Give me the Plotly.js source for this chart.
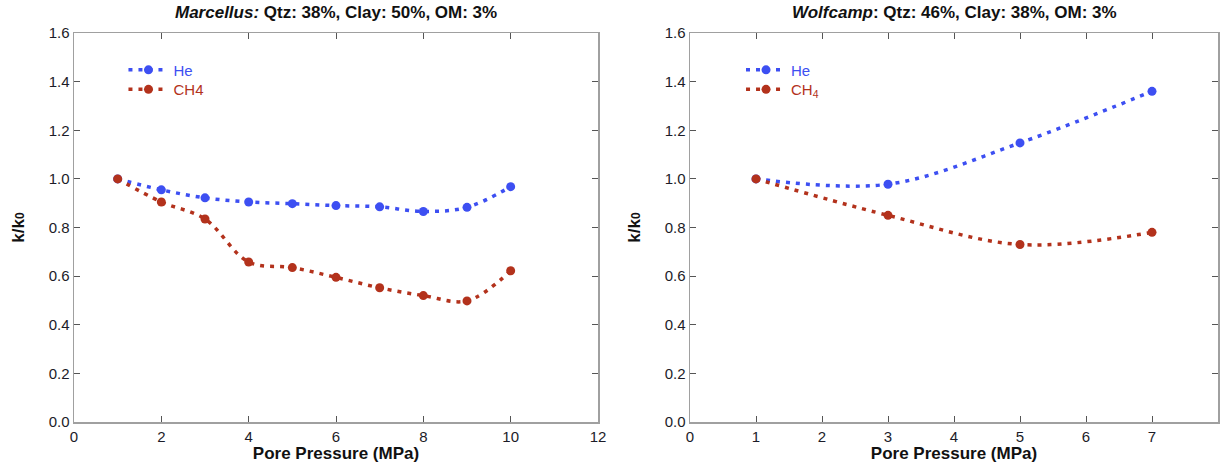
<!DOCTYPE html>
<html><head><meta charset="utf-8">
<script src="https://cdn.plot.ly/plotly-3.0.1.min.js"></script>
<style>body{margin:0;background:#fff}#chart{width:1220px;height:464px}</style>
</head><body><div id="chart"></div>
<script>
// Marcellus
const marcPressure = [1, 2, 3, 4, 5, 6, 7, 8, 9, 10];
const marcHe  = [1.000, 0.955, 0.922, 0.905, 0.898, 0.890, 0.885, 0.866, 0.883, 0.968];
const marcCH4 = [1.000, 0.905, 0.835, 0.658, 0.635, 0.595, 0.552, 0.520, 0.498, 0.622];
// Wolfcamp
const wolfPressure = [1, 3, 5, 7];
const wolfHe  = [1.000, 0.978, 1.148, 1.360];
const wolfCH4 = [1.000, 0.850, 0.730, 0.780];

const blue = '#3d4ff2', red = '#b3321c';
const dash = '4px,6px';
function tr(x, y, name, color, xa, ya, legend) {
  return {x: x, y: y, name: name, type: 'scatter', mode: 'lines+markers',
    line: {color: color, width: 3.5, dash: dash, shape: 'spline', smoothing: 1},
    marker: {color: color, size: 9}, xaxis: xa, yaxis: ya, legend: legend};
}
const data = [
  tr(marcPressure, marcHe, 'He', blue, 'x', 'y', 'legend'),
  tr(marcPressure, marcCH4, 'CH4', red, 'x', 'y', 'legend2'),
  tr(wolfPressure, wolfHe, 'He', blue, 'x2', 'y2', 'legend3'),
  tr(wolfPressure, wolfCH4, 'CH<sub>4</sub>', red, 'x2', 'y2', 'legend4')
];
const font = {family: 'Liberation Sans, Arial, sans-serif', size: 15, color: '#1c1c28'};
const frame = '#a0a0a0';
function xax(dom, max, dt) {
  return {domain: dom, range: [0, max], dtick: dt, tick0: 0, showgrid: false, zeroline: false,
    showline: true, linecolor: frame, linewidth: 1.5, mirror: 'ticks', ticks: 'inside', ticklen: 6,
    tickcolor: '#555', tickwidth: 1, tickfont: {size: 15, color: '#1c1c28'},
    title: {text: '<b>Pore Pressure (MPa)</b>', font: {size: 17, color: '#111'}, standoff: 2}};
}
function yax(anchor) {
  return {domain: [0, 1], range: [0, 1.6], dtick: 0.2, tickformat: '.1f', anchor: anchor,
    showgrid: false, zeroline: false, showline: true, linecolor: frame, linewidth: 1.5, mirror: 'ticks',
    ticks: 'inside', ticklen: 6, tickcolor: '#555', tickwidth: 1, tickfont: {size: 15, color: '#1c1c28'},
    title: {text: '<b>k/k<span style="font-size:12px">0</span></b>', font: {size: 17, color: '#111'}, standoff: 19}};
}
function leg(x, y, color) {
  return {x: x, y: y, xanchor: 'left', yanchor: 'top', bgcolor: 'rgba(0,0,0,0)',
    font: {size: 15, color: color}, itemwidth: 40, tracegroupgap: 0};
}
const L = 74 / 1220, R = 598 / 1220, L2 = 690 / 1220, R2 = 1218 / 1220;
const layout = {
  width: 1220, height: 464, paper_bgcolor: '#fff', plot_bgcolor: '#fff', font: font,
  margin: {l: 0, r: 0, t: 33, b: 42},
  xaxis: Object.assign(xax([L, R], 12, 2), {anchor: 'y'}),
  yaxis: yax('x'),
  xaxis2: Object.assign(xax([L2, R2], 8, 1), {anchor: 'y2'}),
  yaxis2: yax('x2'),
  showlegend: true,
  legend: leg(0.1012, 0.947, blue),
  legend2: leg(0.1012, 0.897, red),
  legend3: leg(0.6074, 0.947, blue),
  legend4: leg(0.6074, 0.897, red),
  annotations: [
    {text: '<b><i>Marcellus:</i> Qtz: 38%, Clay: 50%, OM: 3%</b>', xref: 'paper', yref: 'paper',
     x: (L + R) / 2, y: 1, yshift: 21, xanchor: 'center', yanchor: 'middle', showarrow: false,
     font: {size: 17, color: '#111'}},
    {text: '<b><i>Wolfcamp</i>: Qtz: 46%, Clay: 38%, OM: 3%</b>', xref: 'paper', yref: 'paper',
     x: (L2 + R2) / 2, y: 1, yshift: 21, xanchor: 'center', yanchor: 'middle', showarrow: false,
     font: {size: 17, color: '#111'}}
  ]
};
Plotly.newPlot('chart', data, layout, {displayModeBar: false, staticPlot: true});
</script></body></html>
